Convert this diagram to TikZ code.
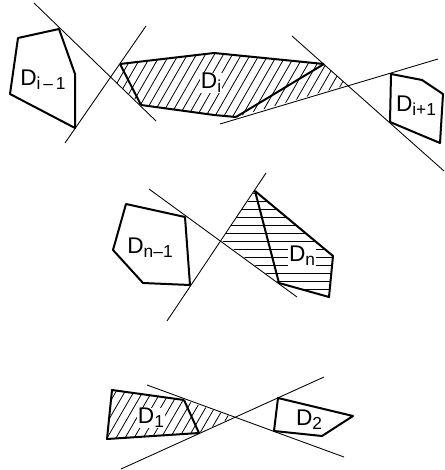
\documentclass[tikz,border=0pt]{standalone}
\usepackage{fontspec}
\setmainfont{Liberation Sans}
\newcommand{\domlabel}[1]{D\raisebox{-3pt}{\fontsize{13}{13}\selectfont #1}}
\begin{document}
\begin{tikzpicture}[
    x=0.75pt, y=-0.75pt,
    region/.style={draw=black, line width=1.5pt, line join=round},
    chord/.style={draw=black, line width=1.5pt},
    cutline/.style={draw=black, line width=0.65pt},
    hatch/.style={draw=black, line width=0.6pt},
    domlab/.style={font=\fontsize{17}{18}\selectfont, inner sep=0.5pt},
    clearlab/.style={domlab, fill=white}
]
\useasboundingbox (0,0) rectangle (444,470);

% Top row - hatched domain first
\begin{scope}
\clip (120,64) -- (214,53) -- (324,64) -- (347,85) -- (236,117) -- (214,115) -- (141,105) -- (111,78) -- cycle;
\foreach \h in {90,99,...,360} {
    \draw[hatch] (\h,130) -- (\h+46,50);
}
\end{scope}
\draw[region] (141,105) -- (214,115) -- (236,117);
\draw[region] (120,64) -- (214,53) -- (324,64);
\draw[chord] (120,64) -- (141,105);
\draw[chord] (236,117) -- (324,64);

% Top row - neighbours
\draw[region] (18,38) -- (59,29) -- (75,74) -- (75,128) -- (10,94) -- cycle;
\draw[region] (391,74) -- (422,80) -- (443,94) -- (440,143) -- (390,122) -- cycle;

% Top row - cutting lines
\draw[cutline] (34,3) -- (156,121);
\draw[cutline] (65,143) -- (146,26);
\draw[cutline] (220,124) -- (438,59);
\draw[cutline] (292,36) -- (444,171);

% Middle row
\begin{scope}
\clip (255,191) -- (333,256) -- (329,297) -- (279,283) -- (221,240) -- cycle;
\foreach \v in {193,201,...,297} {
    \draw[hatch] (215,\v) -- (340,\v);
}
\end{scope}
\draw[region] (279,283) -- (329,297) -- (333,256) -- (255,191);
\draw[chord] (255,191) -- (279,283);
\draw[region] (126,204) -- (185,217) -- (190,285) -- (143,283) -- (113,250) -- cycle;
\draw[cutline] (149,189) -- (297,297);
\draw[cutline] (167,321) -- (266,173);

% Bottom row
\begin{scope}
\clip (112,390) -- (184,400) -- (233,417) -- (199,433) -- (107,439) -- cycle;
\foreach \h in {85,94,...,220} {
    \draw[hatch] (\h,445) -- (\h+36,383);
}
\end{scope}
\draw[region] (184,400) -- (112,390) -- (107,439) -- (199,433);
\draw[chord] (184,400) -- (199,433);
\draw[region] (278,398) -- (353,416) -- (322,436) -- (274,431) -- cycle;
\draw[cutline] (147,385) -- (344,457);
\draw[cutline] (121,469) -- (324,377);

% Labels
\node[domlab] (prev) at (43,80) {\domlabel{i\,–\,1}};
\node[clearlab] (cur) at (211,83) {\domlabel{i}};
\node[domlab] (next) at (416,106) {\domlabel{i+1}};
\node[domlab] (nprev) at (150,248) {\domlabel{n–1}};
\node[clearlab] (last) at (302,256) {\domlabel{n}};
\node[clearlab] (first) at (151,418) {\domlabel{1}};
\node[domlab] (second) at (309,420) {\domlabel{2}};

\end{tikzpicture}
\end{document}
